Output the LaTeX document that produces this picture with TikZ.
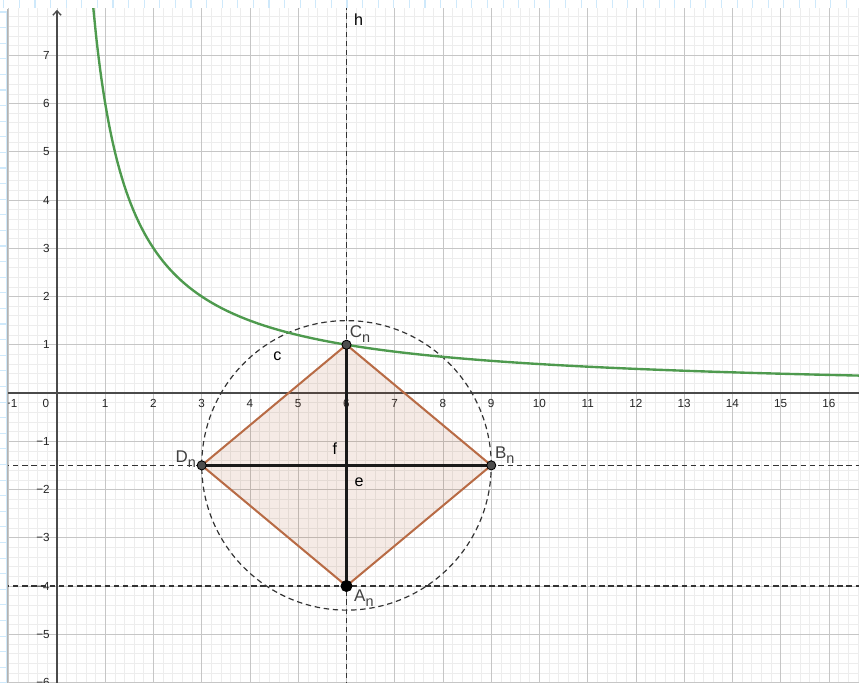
\documentclass[tikz,border=0pt]{standalone}
\usepackage{fontspec}
\setmainfont{Liberation Sans}
\usepackage{xcolor}
\usepackage{tikz}
\usetikzlibrary{arrows.meta,calc}
\definecolor{ggminor}{HTML}{EDEDED}
\definecolor{ggmajor}{HTML}{C6C6C6}
\definecolor{ggaxis}{HTML}{4A4A4A}
\definecolor{gggreen}{HTML}{4E9A4E}
\definecolor{ggbrown}{HTML}{B86B45}
\definecolor{ggfill}{HTML}{993300}
\definecolor{ggdark}{HTML}{333333}
\definecolor{ggpoint}{HTML}{4D4D4D}
\definecolor{ggruler}{HTML}{CFE9FB}
\newcommand{\subn}{\raisebox{-3.2pt}{\fontsize{8.5}{9}\selectfont n}}

\begin{document}
\begin{tikzpicture}[
  ticklab/.style={font=\fontsize{6.9}{8}\selectfont,text=black!85,inner sep=0pt},
  lab/.style={font=\fontsize{9.5}{10}\selectfont,inner sep=0pt},
  ptlab/.style={font=\fontsize{10}{11}\selectfont,text=black!75,inner sep=0pt},
  gpoint/.style={circle,draw=black,line width=0.5pt,fill=ggpoint,inner sep=0pt,minimum size=0.19cm},
  guide/.style={ggdark,line width=0.7pt,dash pattern=on 3.2pt off 2.2pt},
]
\useasboundingbox (-1.181,-5.990) rectangle (16.622,8.145);
% window rulers
\foreach \k in {-2,...,53}
  \draw[ggruler,line width=0.6pt] ({-1.181+(35+15.6*\k)/48.25},8.145) -- ++(0,-0.166);
\foreach \k in {0,...,43}
  \draw[ggruler,line width=0.6pt] (-1.181,{8.145-(12+15.6*\k)/48.25}) -- ++(0.145,0);
\draw[ggruler,line width=0.4pt] (-1.046,7.9) -- (-1.046,-6.1);

\coordinate (A) at (6,-4);
\coordinate (B) at (9,-1.5);
\coordinate (C) at (6,1);
\coordinate (D) at (3,-1.5);
\coordinate (M) at (6,-1.5);

\begin{scope}
\clip (-1.016,-5.99) rectangle (16.622,7.959);
% grid
\draw[ggminor,line width=0.4pt] (-1.2,-6.2) grid[step=0.2] (16.8,8.2);
\draw[ggmajor,line width=0.5pt] (-2,-7) grid[step=1] (17,9);
% axes
\draw[ggaxis,line width=0.8pt] (-1.1,0) -- (16.7,0);
\draw[ggaxis,line width=0.8pt,-{Straight Barb[length=0.9mm,width=1.7mm]}] (0,-6.1) -- (0,7.94);
\foreach \x in {1,...,16}
  \node[ticklab] (xt\x) at (\x,-0.218) {\x};
\node[ticklab] (xtm1) at (-0.96,-0.218) {−1};
\node[ticklab] (xt0) at (-0.23,-0.218) {0};
\foreach \y in {1,...,7}
  \node[ticklab,anchor=east] (yt\y) at (-0.145,\y) {\y};
\foreach \y in {1,...,6}
  \node[ticklab,anchor=east] (ytm\y) at (-0.145,-\y) {−\y};
% dashed helpers
\draw[guide] (6,-6.1) -- (6,8.2);
\draw[guide] (-1.1,-1.5) -- (16.7,-1.5);
\draw[guide] (-1.1,-4) -- (16.7,-4);
\draw[guide] (M) circle (3);
% rhombus
\fill[ggfill,fill opacity=0.1] (A) -- (B) -- (C) -- (D) -- cycle;
\draw[ggbrown,line width=1.2pt,line join=round] (A) -- (B) -- (C) -- (D) -- cycle;
\draw[black!90,line width=1.5pt] (D) -- (B);
\draw[black!90,line width=1.5pt] (A) -- (C);
% hyperbola
\draw[gggreen,line width=1.4pt] plot[domain=0.74:16.8,samples=200,smooth] (\x,{6/\x});
\end{scope}

\node[gpoint] (Cn) at (C) {};
\node[gpoint] (Bn) at (B) {};
\node[gpoint] (Dn) at (D) {};
\node[gpoint,fill=black,minimum size=0.23cm] (An) at (A) {};

\node[ptlab] (lC) at (6.28,1.22) {C\subn};
\node[ptlab] (lB) at (9.28,-1.29) {B\subn};
\node[ptlab] (lD) at (2.67,-1.37) {D\subn};
\node[ptlab] (lA) at (6.36,-4.25) {A\subn};
\node[lab] (lc) at (4.57,0.77) {c};
\node[lab] (lf) at (5.76,-1.16) {f};
\node[lab] (le) at (6.26,-1.855) {e};
\node[lab] (lh) at (6.25,7.74) {h};

\draw[gray!60,line width=0.6pt] (-1.016,7.959) -- (-1.016,-6);
\end{tikzpicture}
\end{document}
